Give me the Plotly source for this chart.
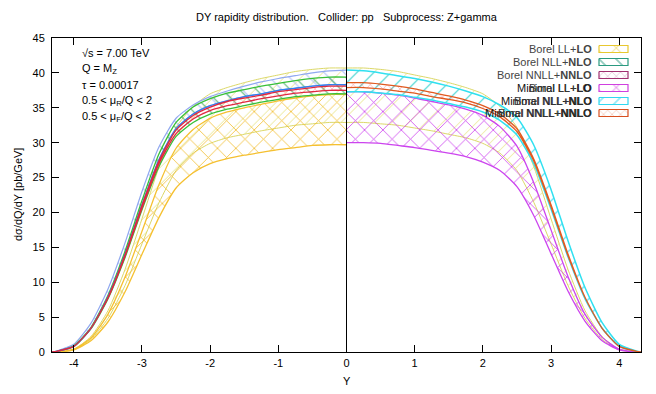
import plotly.graph_objects as go

# ---------------- data ----------------
# rapidity grid for one half (distribution is symmetric); left half = Borel, right half = Minimal
Y_HALF = [0, 0.25, 0.5, 0.75, 1.0, 1.25, 1.5, 1.75, 2.0, 2.25, 2.5, 2.75, 3.0, 3.25, 3.5, 3.75, 4.0, 4.25, 4.32]

# light khaki band spanning both halves
khaki_lo = [32.9, 32.9, 32.7, 32.5, 32.1, 31.7, 31.2, 30.7, 29.9, 28.5, 26.0, 21.4, 15.5, 9.5, 4.8, 1.8, 0.3, 0.0, 0.0]
khaki_hi = [40.7, 40.7, 40.5, 40.2, 39.7, 39.2, 38.6, 37.9, 37.0, 35.2, 32.2, 26.5, 19.1, 11.8, 5.9, 2.2, 0.4, 0.0, 0.0]

# Borel (Y < 0)
borel_lo_lo = [29.7, 29.7, 29.6, 29.3, 29.0, 28.6, 28.2, 27.7, 27.0, 25.7, 23.5, 19.3, 14.0, 8.6, 4.3, 1.6, 0.3, 0.0, 0.0]
borel_lo_hi = [36.9, 36.9, 36.7, 36.4, 36.0, 35.5, 35.0, 34.4, 33.5, 31.9, 29.2, 24.0, 17.3, 10.7, 5.4, 2.0, 0.4, 0.0, 0.0]
lblue_hi = [40.4, 40.3, 40.0, 39.6, 39.2, 38.7, 38.1, 37.4, 36.6, 35.4, 33.5, 29.4, 23.0, 15.6, 9.0, 4.1, 1.1, 0.15, 0.0]
blue_line = [38.3, 38.3, 38.1, 37.8, 37.5, 37.0, 36.6, 36.0, 35.3, 34.1, 32.0, 27.6, 21.1, 14.0, 7.9, 3.4, 0.8, 0.1, 0.0]
borel_nlo_lo = [37.0, 37.0, 36.8, 36.6, 36.2, 35.8, 35.3, 34.8, 34.1, 32.9, 30.9, 26.6, 20.4, 13.5, 7.6, 3.3, 0.8, 0.1, 0.0]
borel_nlo_hi = [39.4, 39.4, 39.2, 38.9, 38.5, 38.1, 37.6, 37.1, 36.3, 35.1, 32.9, 28.4, 21.7, 14.4, 8.1, 3.5, 0.9, 0.1, 0.0]
borel_nnlo_lo = [37.5, 37.5, 37.3, 37.1, 36.7, 36.3, 35.8, 35.3, 34.6, 33.4, 31.3, 27.0, 20.6, 13.7, 7.7, 3.4, 0.8, 0.1, 0.0]
borel_nnlo_hi = [38.1, 38.1, 37.9, 37.6, 37.3, 36.8, 36.4, 35.9, 35.1, 33.9, 31.8, 27.4, 21.0, 13.9, 7.8, 3.4, 0.8, 0.1, 0.0]

# Minimal (Y > 0)
min_lo_lo = [30.0, 30.0, 29.9, 29.6, 29.3, 28.9, 28.5, 28.0, 27.2, 26.0, 23.7, 19.5, 14.1, 8.7, 4.4, 1.6, 0.3, 0.0, 0.0]
min_lo_hi = [37.3, 37.3, 37.1, 36.8, 36.4, 35.9, 35.4, 34.8, 33.9, 32.3, 29.5, 24.2, 17.5, 10.8, 5.4, 2.1, 0.4, 0.0, 0.0]
min_nlo_lo = [37.3, 37.3, 37.1, 36.9, 36.5, 36.1, 35.6, 35.1, 34.4, 33.2, 31.1, 26.9, 20.5, 13.6, 7.6, 3.4, 0.8, 0.1, 0.0]
min_nlo_hi = [40.4, 40.3, 40.0, 39.6, 39.2, 38.7, 38.1, 37.4, 36.6, 35.4, 33.6, 29.6, 23.3, 15.9, 9.2, 4.2, 1.1, 0.15, 0.0]
min_nnlo_lo = [37.9, 37.9, 37.7, 37.4, 37.1, 36.6, 36.2, 35.7, 34.9, 33.7, 31.6, 27.3, 20.8, 13.8, 7.8, 3.4, 0.8, 0.1, 0.0]
min_nnlo_hi = [38.6, 38.6, 38.4, 38.1, 37.7, 37.2, 36.7, 36.1, 35.3, 34.1, 32.0, 27.6, 21.1, 14.0, 7.8, 3.4, 0.8, 0.1, 0.0]

X_TICKS = [-4, -3, -2, -1, 0, 1, 2, 3, 4]
Y_TICKS = [0, 5, 10, 15, 20, 25, 30, 35, 40, 45]

LEGEND_NAMES = ["Borel LL+<b>LO</b>", "Borel NLL+<b>NLO</b>", "Borel NNLL+<b>NNLO</b>",
                "Minimal LL+<b>LO</b>", "Minimal NLL+<b>NLO</b>", "Minimal NNLL+<b>NNLO</b>"]
LEGEND_OVER = [None, None, None, "Borel LL+LO", "Borel NLL+NLO", "Borel NNLL+NNLO"]
LEGEND_COLORS = ["#e8c830", "#2a9a80", "#a03070", "#d040e0", "#30d8f0", "#d85020"]
LEGEND_PATTERNS = ["x", "\\", "x", "x", "/", "x"]
LEGEND_PSIZE = [14, 12, 6, 14, 12, 6]

INFO = ["√s = 7.00 TeV", "Q = M<sub>Z</sub>", "τ = 0.00017",
        "0.5 &lt; μ<sub>R</sub>/Q &lt; 2", "0.5 &lt; μ<sub>F</sub>/Q &lt; 2"]

TITLE = "DY rapidity distribution.   Collider: pp   Subprocess: Z+gamma"
X_TITLE = "Y"
Y_TITLE = "dσ/dQ/dY [pb/GeV]"

FONT = "Liberation Sans"

# ---------------- figure ----------------
fig = go.Figure()

left_x = [-y for y in Y_HALF]
right_x = list(Y_HALF)


def band(xs, lo, hi, color, pcolor, shape, size, width=1.0, opacity=1.0, solidity=0.1):
    x = list(xs) + list(xs)[::-1]
    y = list(lo) + list(hi)[::-1]
    fig.add_trace(go.Scatter(
        x=x, y=y, mode="lines", fill="toself", fillcolor="rgba(0,0,0,0)",
        fillpattern=dict(shape=shape, fgcolor=pcolor, bgcolor="rgba(0,0,0,0)",
                         size=size, solidity=solidity, fgopacity=opacity),
        line=dict(color=color, width=width, shape="spline", smoothing=0.6),
        hoverinfo="skip", showlegend=False))


def line(xs, ys, color, width=1.2):
    fig.add_trace(go.Scatter(x=list(xs), y=list(ys), mode="lines",
                             line=dict(color=color, width=width, shape="spline", smoothing=0.6),
                             hoverinfo="skip", showlegend=False))


full_x = [-y for y in Y_HALF[::-1]] + Y_HALF[1:]
khaki_lo_full = khaki_lo[::-1] + khaki_lo[1:]
khaki_hi_full = khaki_hi[::-1] + khaki_hi[1:]

band(full_x, khaki_lo_full, khaki_hi_full, "#dcd868", "#e4e070", "/", 12, 1.0, 0.8, 0.08)

# left half - Borel
band(left_x, borel_lo_lo, borel_lo_hi, "#f5c030", "#f2be30", "x", 13, 1.3, 1.0, 0.12)
band(left_x, blue_line, lblue_hi, "#90a8f0", "#90a8f0", "\\", 14, 1.2, 0.7, 0.08)
band(left_x, borel_nlo_lo, borel_nlo_hi, "#38c038", "#50b070", "\\", 12, 1.3, 0.9, 0.1)
line(left_x, blue_line, "#3080f0", 1.3)
band(left_x, borel_nnlo_lo, borel_nnlo_hi, "#e02840", "#ff6070", "x", 6, 1.3, 0.9, 0.12)

# right half - Minimal
band(right_x, min_lo_lo, min_lo_hi, "#cc44ee", "#cc44ee", "x", 13, 1.3, 1.0, 0.12)
band(right_x, min_nlo_lo, min_nlo_hi, "#30e0f0", "#30d8f0", "/", 12, 1.5, 0.9, 0.1)
band(right_x, min_nnlo_lo, min_nnlo_hi, "#e05a20", "#ff5050", "x", 6, 1.3, 0.9, 0.12)

# pixel overlay axis for key boxes and texts inside the frame
PX_L, PX_R, PX_T, PX_B = 52, 641, 38, 352
ROW_Y = [49, 62, 75, 88, 101, 113]
for i, (c, p, s) in enumerate(zip(LEGEND_COLORS, LEGEND_PATTERNS, LEGEND_PSIZE)):
    y0, y1 = ROW_Y[i] - 3.5, ROW_Y[i] + 3.5
    fig.add_trace(go.Scatter(
        x=[599, 628, 628, 599, 599], y=[y0, y0, y1, y1, y0], xaxis="x2", yaxis="y2",
        mode="lines", fill="toself", fillcolor="rgba(0,0,0,0)",
        fillpattern=dict(shape=p, fgcolor=c, bgcolor="rgba(0,0,0,0)", size=s, solidity=0.15),
        line=dict(color=c, width=1.2), hoverinfo="skip", showlegend=False))

annotations = []
for i, name in enumerate(LEGEND_NAMES):
    col = "#444444" if i < 3 else "#111111"
    annotations.append(dict(x=594, y=ROW_Y[i], xref="x2", yref="y2", text=name,
                            xanchor="right", yanchor="middle", showarrow=False,
                            font=dict(family=FONT, size=11, color=col)))
    if LEGEND_OVER[i]:
        annotations.append(dict(x=594, y=ROW_Y[i], xref="x2", yref="y2", text=LEGEND_OVER[i],
                                xanchor="right", yanchor="middle", showarrow=False,
                                font=dict(family=FONT, size=11, color="#333333")))

INFO_Y = [53, 69, 85, 101, 117]
for t, yy in zip(INFO, INFO_Y):
    annotations.append(dict(x=80, y=yy, xref="x2", yref="y2", text=t,
                            xanchor="left", yanchor="middle", showarrow=False,
                            font=dict(family=FONT, size=11, color="black")))


def px(xp):
    return (xp - PX_L) / (PX_R - PX_L)


def py(yp):
    return (PX_B - yp) / (PX_B - PX_T)


# title and axis titles (paper coordinates, outside the frame)
annotations.append(dict(x=px(347), y=py(17), xref="paper", yref="paper", text=TITLE,
                        xanchor="center", yanchor="middle", showarrow=False,
                        font=dict(family=FONT, size=11, color="black")))
annotations.append(dict(x=px(347), y=py(381), xref="paper", yref="paper", text=X_TITLE,
                        xanchor="center", yanchor="middle", showarrow=False,
                        font=dict(family=FONT, size=11, color="black")))
annotations.append(dict(x=px(18), y=py(195), xref="paper", yref="paper", text=Y_TITLE,
                        xanchor="center", yanchor="middle", showarrow=False, textangle=-90,
                        font=dict(family=FONT, size=11, color="black")))

fig.update_layout(
    width=656, height=394,
    margin=dict(l=PX_L, r=656 - PX_R, t=PX_T, b=394 - PX_B, autoexpand=False),
    paper_bgcolor="white", plot_bgcolor="white",
    font=dict(family=FONT, size=11, color="black"),
    showlegend=False,
    xaxis=dict(range=[-4.32, 4.32], tickvals=X_TICKS, ticktext=[str(v) for v in X_TICKS],
               ticks="inside", ticklen=7, tickcolor="black", showline=True, linecolor="black",
               linewidth=1, mirror="ticks", showgrid=False, zeroline=False, automargin=False,
               ticklabelstandoff=1, tickfont=dict(family=FONT, size=11)),
    yaxis=dict(range=[0, 45], tickvals=Y_TICKS, ticks="inside", ticklen=7, tickcolor="black",
               showline=True, linecolor="black", linewidth=1, mirror="ticks",
               showgrid=False, zeroline=False, automargin=False,
               ticklabelstandoff=4, tickfont=dict(family=FONT, size=11)),
    xaxis2=dict(overlaying="x", range=[PX_L, PX_R], visible=False, anchor="y2"),
    yaxis2=dict(overlaying="y", range=[PX_B, PX_T], visible=False, anchor="x2"),
    annotations=annotations,
    shapes=[dict(type="line", xref="x", yref="paper", x0=0, x1=0, y0=0, y1=1,
                 line=dict(color="black", width=1), layer="above")],
)

fig.write_html("out.html", config={"displayModeBar": False},
               post_script="document.body.style.margin='0px';document.body.style.overflow='hidden';")
